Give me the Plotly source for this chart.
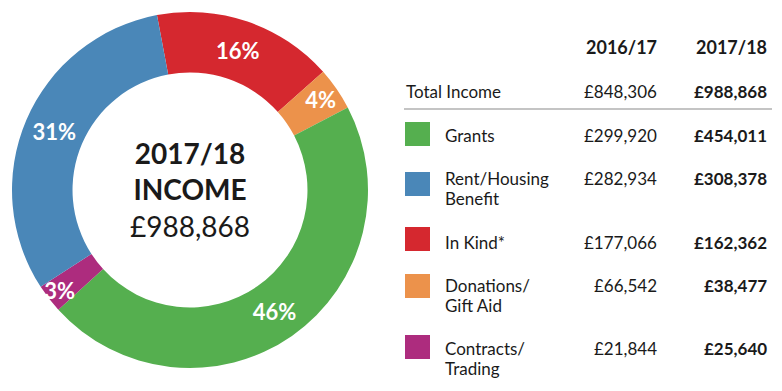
import plotly.graph_objects as go

# ---- data ----
categories = ["Grants", "Rent/Housing<br>Benefit", "In Kind*", "Donations/<br>Gift Aid", "Contracts/<br>Trading"]
income_2016_17 = [299920, 282934, 177066, 66542, 21844]
income_2017_18 = [454011, 308378, 162362, 38477, 25640]
total_2016_17 = 848306
total_2017_18 = 988868
colors = ["#55AF4F", "#4A87B8", "#D5282F", "#EC924B", "#AD2C7E"]
year_labels = ["2016/17", "2017/18"]
pie_order = [2, 3, 0, 4, 1]  # clockwise from near 12 o'clock

W, H = 782, 391
FONT = "Lato"

def px(x):
    return x / W

def py(y):
    return 1 - y / H

def money(v):
    return "£{:,}".format(v)

fig = go.Figure()
fig.add_trace(go.Pie(
    labels=[categories[i].replace("<br>", " ") for i in pie_order],
    values=[income_2017_18[i] for i in pie_order],
    marker=dict(colors=[colors[i] for i in pie_order], line=dict(width=0)),
    hole=0.66,
    sort=False,
    direction="clockwise",
    rotation=-10.7,
    texttemplate="<b>%{percent:.0%}</b>",
    textposition="inside",
    insidetextorientation="horizontal",
    textfont=dict(family=FONT, size=22, color="white"),
    domain=dict(x=[px(12), px(368)], y=[py(368), py(12)]),
    showlegend=False,
    hoverinfo="label+value+percent",
))

ann = []
# centre text
ann.append(dict(x=px(190), y=py(190), xref="paper", yref="paper",
                text="<b>" + year_labels[1] + "</b><br><b>INCOME</b><br>" + money(total_2017_18),
                showarrow=False, font=dict(family=FONT, size=28, color="#1a1a1a"),
                align="center", xanchor="center", yanchor="middle"))

col1_x, col2_x, label_x = 659, 769, 443
TXT = 17
# header
for xx, t in zip([col1_x, col2_x], year_labels):
    ann.append(dict(x=px(xx), y=py(47), xref="paper", yref="paper", text="<b>" + t + "</b>",
                    showarrow=False, xanchor="right", yanchor="middle",
                    font=dict(family=FONT, size=18, color="#1a1a1a")))
# total row
ann.append(dict(x=px(404), y=py(91), xref="paper", yref="paper", text="Total Income",
                showarrow=False, xanchor="left", yanchor="middle",
                font=dict(family=FONT, size=TXT, color="#1a1a1a")))
ann.append(dict(x=px(col1_x), y=py(91), xref="paper", yref="paper", text=money(total_2016_17),
                showarrow=False, xanchor="right", yanchor="middle",
                font=dict(family=FONT, size=TXT, color="#1a1a1a")))
ann.append(dict(x=px(col2_x), y=py(91), xref="paper", yref="paper", text="<b>" + money(total_2017_18) + "</b>",
                showarrow=False, xanchor="right", yanchor="middle",
                font=dict(family=FONT, size=TXT, color="#1a1a1a")))

shapes = [dict(type="line", xref="paper", yref="paper", x0=px(404), x1=px(772), y0=py(109), y1=py(109),
               line=dict(color="#8a8a8a", width=1.2))]

row_y = [135, 178, 242, 285, 348]
square_top = [122, 172, 227, 274, 335]
for i, cat in enumerate(categories):
    shapes.append(dict(type="rect", xref="paper", yref="paper",
                       x0=px(405), x1=px(430), y0=py(square_top[i] + 24), y1=py(square_top[i]),
                       fillcolor=colors[i], line=dict(width=0)))
    for k, line in enumerate(cat.split("<br>")):
        ann.append(dict(x=px(label_x), y=py(row_y[i] + 20 * k), xref="paper", yref="paper", text=line,
                        showarrow=False, xanchor="left", yanchor="middle",
                        font=dict(family=FONT, size=TXT, color="#1a1a1a")))
    ann.append(dict(x=px(col1_x), y=py(row_y[i]), xref="paper", yref="paper", text=money(income_2016_17[i]),
                    showarrow=False, xanchor="right", yanchor="middle",
                    font=dict(family=FONT, size=TXT, color="#1a1a1a")))
    ann.append(dict(x=px(col2_x), y=py(row_y[i]), xref="paper", yref="paper",
                    text="<b>" + money(income_2017_18[i]) + "</b>",
                    showarrow=False, xanchor="right", yanchor="middle",
                    font=dict(family=FONT, size=TXT, color="#1a1a1a")))

fig.update_layout(
    width=W, height=H,
    margin=dict(l=0, r=0, t=0, b=0),
    paper_bgcolor="white", plot_bgcolor="white",
    annotations=ann, shapes=shapes,
    uniformtext=dict(minsize=22, mode="show"),
)
fig.write_html("out.html", config={"displayModeBar": False},
               post_script="document.body.style.margin='0';")
